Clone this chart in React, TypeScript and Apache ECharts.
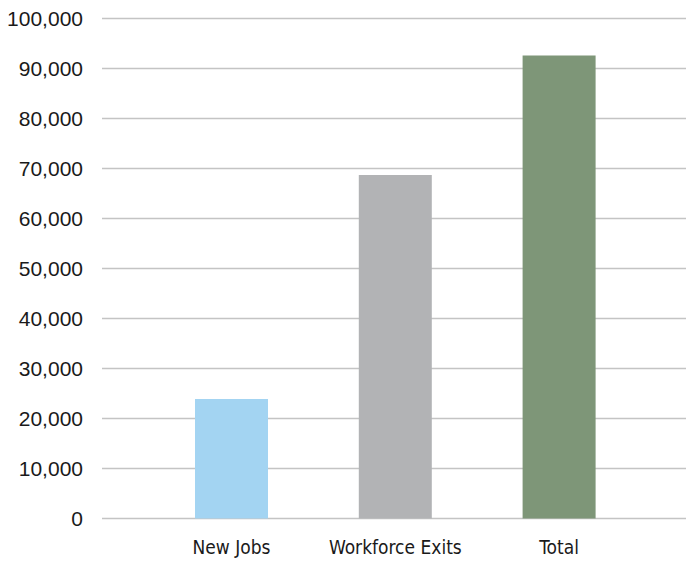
import React, { useEffect, useRef } from "react";
import * as echarts from "echarts";

const categories = ["New Jobs", "Workforce Exits", "Total"];
const values = [23900, 68700, 92600];
const barColors = ["#A3D4F2", "#B2B3B5", "#7E9678"];
const yTicks = { min: 0, max: 100000, interval: 10000 };

export default function App() {
  const ref = useRef<HTMLDivElement>(null);
  useEffect(() => {
    if (!ref.current) return;
    const chart = echarts.init(ref.current, null, { renderer: "svg" });
    chart.setOption({
      animation: false,
      backgroundColor: "#ffffff",
      grid: [
        { left: 102, right: 0, top: 18.5, bottom: 43.5 },
        { left: 149.6, right: 45, top: 18.5, bottom: 43.5 },
      ],
      xAxis: [
        { type: "category", gridIndex: 0, data: [""], show: false },
        {
          type: "category",
          gridIndex: 1,
          data: categories,
          axisLine: { show: false },
          axisTick: { show: false },
          axisLabel: {
            interval: 0,
            fontSize: 19,
            color: "#1a1a1a",
            margin: 19,
            fontFamily: "'Liberation Sans Narrow', 'DejaVu Sans Condensed', sans-serif",
          },
        },
      ],
      yAxis: [
        {
          type: "value",
          gridIndex: 0,
          min: yTicks.min,
          max: yTicks.max,
          interval: yTicks.interval,
          axisLine: { show: false },
          axisTick: { show: false },
          splitLine: { lineStyle: { color: "#c4c4c4", width: 1.3 } },
          axisLabel: {
            fontSize: 21,
            color: "#1a1a1a",
            margin: 19,
            fontFamily: "'Liberation Sans', Arial, sans-serif",
            formatter: (v: number) => v.toLocaleString("en-US"),
          },
        },
        {
          type: "value",
          gridIndex: 1,
          min: yTicks.min,
          max: yTicks.max,
          interval: yTicks.interval,
          show: false,
          splitLine: { show: false },
        },
      ],
      series: [
        {
          type: "bar",
          xAxisIndex: 1,
          yAxisIndex: 1,
          barWidth: 73,
          data: values.map((v, i) => ({ value: v, itemStyle: { color: barColors[i] } })),
        },
      ],
    });
    return () => chart.dispose();
  }, []);
  return (
    <div
      ref={ref}
      style={{ position: "fixed", left: 0, top: 0, width: 686, height: 562 }}
    />
  );
}
